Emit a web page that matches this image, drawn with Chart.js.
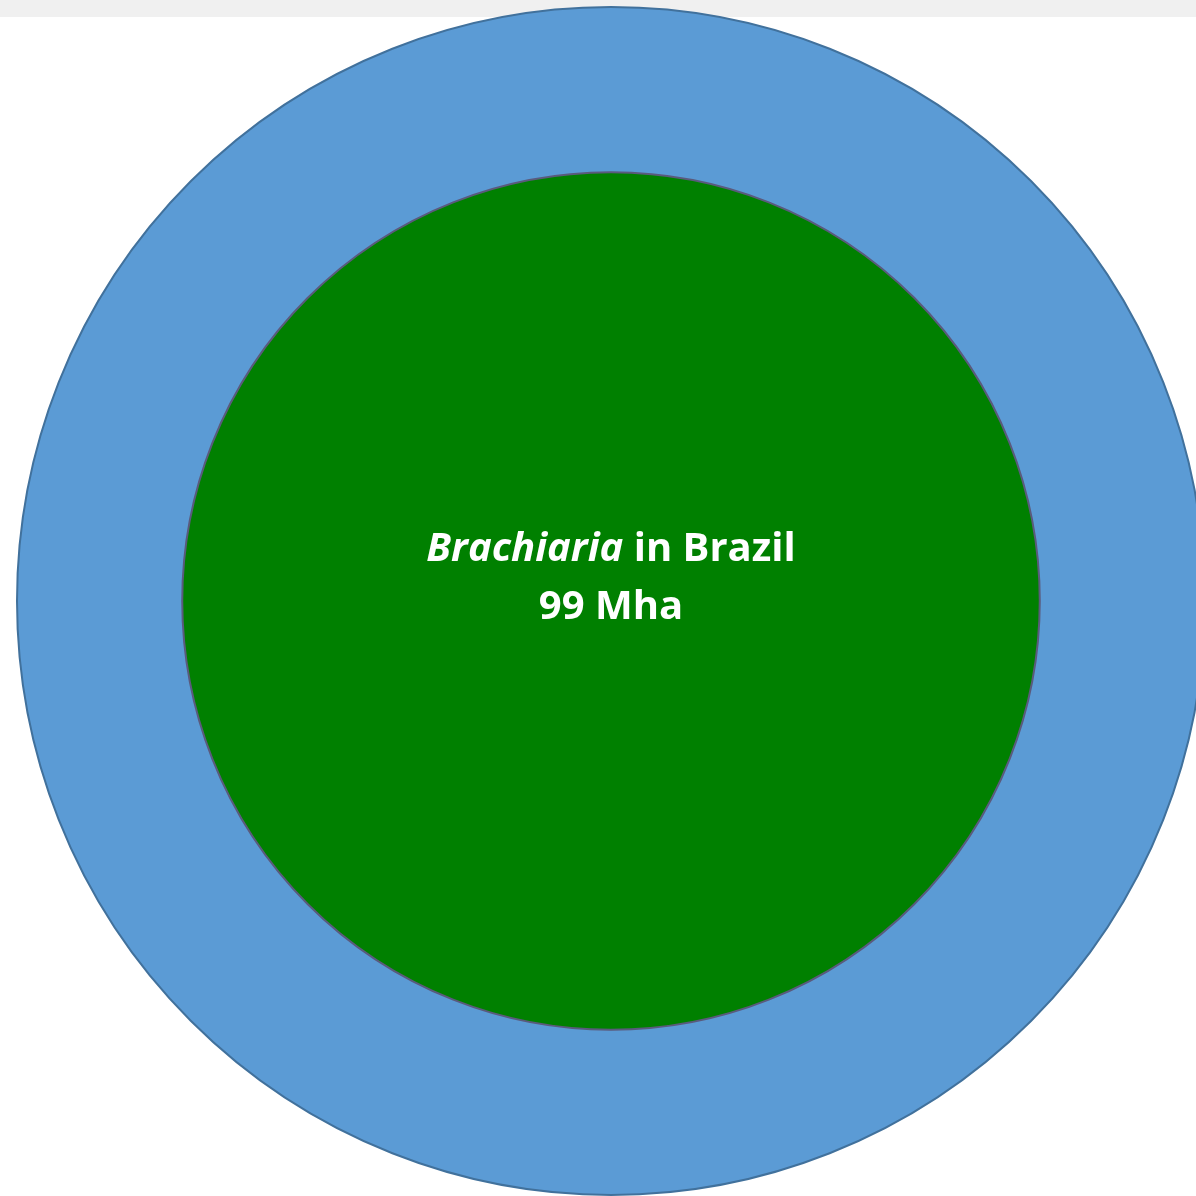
<!DOCTYPE html>
<html>
<head>
<meta charset="utf-8">
<script src="https://cdn.jsdelivr.net/npm/chart.js@4"></script>
<style>
  html, body { margin: 0; padding: 0; background: #fff; overflow: hidden; width: 1196px; height: 1196px; }
  #topbar { position: absolute; left: 0; top: 0; width: 1196px; height: 17px; background: #f0f0f0; }
  #wrap { position: absolute; left: 16px; top: 6px; width: 1190px; height: 1190px; }
</style>
</head>
<body>
<div id="topbar"></div>
<div id="wrap"><canvas id="circles"></canvas></div>
<script>
// areas in Mha (outer = all pasture, inner = Brachiaria)
const categories = ['Pastures in Brazil', 'Brachiaria in Brazil'];
const areasMha = [190, 99];
const titleItalic = 'Brachiaria';
const titleRest = ' in Brazil';
const valueLabel = '99 Mha';
const edgeColors = ['#41719c', '#5a5a7c'];

// circle area -> radius, so ring thickness comes from sqrt of area
const outerR = Math.sqrt(areasMha[0]);
const innerR = Math.sqrt(areasMha[1]);

// outline each circle (a full-circle arc border leaves a seam line)
const circleEdges = {
  id: 'circleEdges',
  afterDatasetsDraw(chart) {
    const ctx = chart.ctx;
    ctx.save();
    ctx.lineWidth = 2;
    chart.data.datasets.forEach((ds, i) => {
      const arc = chart.getDatasetMeta(i).data[0];
      ctx.strokeStyle = edgeColors[i];
      ctx.beginPath();
      ctx.arc(arc.x, arc.y, arc.outerRadius, 0, Math.PI * 2);
      ctx.stroke();
    });
    ctx.restore();
  }
};

const centerText = {
  id: 'centerText',
  afterDraw(chart) {
    const ctx = chart.ctx;
    const a = chart.chartArea;
    const cx = (a.left + a.right) / 2;
    const cy = (a.top + a.bottom) / 2;
    ctx.save();
    ctx.fillStyle = '#ffffff';
    ctx.textBaseline = 'alphabetic';
    const fItal = 'italic bold 40px "Open Sans"';
    const fBold = 'bold 40px "Open Sans"';
    ctx.font = fItal;
    const w1 = ctx.measureText(titleItalic).width;
    ctx.font = fBold;
    const w2 = ctx.measureText(titleRest).width;
    let x = cx - (w1 + w2) / 2;
    ctx.textAlign = 'left';
    ctx.font = fItal;
    ctx.fillText(titleItalic, x, cy - 40);
    ctx.font = fBold;
    ctx.fillText(titleRest, x + w1, cy - 40);
    ctx.textAlign = 'center';
    ctx.fillText(valueLabel, cx, cy + 18);
    ctx.restore();
  }
};

new Chart(document.getElementById('circles'), {
  type: 'pie',
  data: {
    labels: ['area'],
    datasets: [
      {
        label: categories[0],
        data: [areasMha[0]],
        weight: outerR - innerR,
        backgroundColor: '#5b9bd5',
        borderWidth: 0
      },
      {
        label: categories[1],
        data: [areasMha[1]],
        weight: innerR,
        backgroundColor: '#008000',
        borderWidth: 0
      }
    ]
  },
  options: {
    responsive: true,
    maintainAspectRatio: false,
    animation: false,
    layout: { padding: 1 },
    plugins: {
      legend: { display: false },
      tooltip: { enabled: false }
    }
  },
  plugins: [circleEdges, centerText]
});
</script>
</body>
</html>
